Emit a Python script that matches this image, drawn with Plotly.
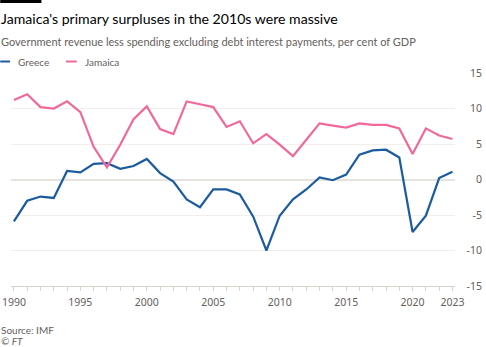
import plotly.graph_objects as go

# Primary balance, per cent of GDP
years = list(range(1990, 2024))
greece = [-5.9, -3.0, -2.4, -2.6, 1.2, 1.0, 2.2, 2.3, 1.5, 1.9,
          2.9, 0.9, -0.3, -2.8, -3.9, -1.4, -1.4, -2.1, -5.2, -10.0,
          -5.1, -2.8, -1.4, 0.3, -0.1, 0.7, 3.5, 4.1, 4.2, 3.1,
          -7.4, -5.1, 0.2, 1.1]
jamaica = [11.2, 12.0, 10.2, 10.0, 11.0, 9.5, 4.6, 1.7, 4.9, 8.5,
           10.3, 7.1, 6.4, 11.0, 10.6, 10.2, 7.4, 8.2, 5.1, 6.4,
           4.9, 3.3, 5.6, 7.9, 7.6, 7.3, 7.9, 7.7, 7.7, 7.2,
           3.6, 7.2, 6.2, 5.7]

x_labels = {1990: "1990", 1995: "1995", 2000: "2000", 2005: "2005",
            2010: "2010", 2015: "2015", 2020: "2020", 2023: "2023"}
y_ticks = [-15, -10, -5, 0, 5, 10, 15]

BLUE = "#1b5c9e"
PINK = "#f0699a"
GREY_TEXT = "#66605c"
FONT = "Noto Sans"
TEXT_FONT = "Lato"

W, H = 486, 347
L, R, T, B = 11, 2, 73, 61
PW, PH = W - L - R, H - T - B


def px(x):
    return (x - L) / PW


def py(y):
    return (H - B - y) / PH


fig = go.Figure()
fig.add_trace(go.Scatter(x=years, y=greece, mode="lines", name="Greece",
                         line=dict(color=BLUE, width=2.2), showlegend=False))
fig.add_trace(go.Scatter(x=years, y=jamaica, mode="lines", name="Jamaica",
                         line=dict(color=PINK, width=2.2), showlegend=False))
# carrier for the right-hand value labels
fig.add_trace(go.Scatter(x=years, y=jamaica, yaxis="y2", mode="lines",
                         line=dict(color="rgba(0,0,0,0)"), showlegend=False,
                         hoverinfo="skip"))

fig.update_layout(
    width=W, height=H,
    margin=dict(l=L, r=R, t=T, b=B),
    paper_bgcolor="white", plot_bgcolor="white",
    font=dict(family=FONT, color=GREY_TEXT, size=10.5),
    xaxis=dict(
        domain=[0, px(464)],
        range=[1989.78, 2023.22],
        tickvals=years,
        ticktext=[x_labels.get(y, "") for y in years],
        ticks="outside", ticklen=4, tickcolor="#d8d2cc", tickwidth=1,
        showline=True, linecolor="#d8d2cc", linewidth=1,
        showgrid=False, zeroline=False,
        ticklabelstandoff=2,
        tickfont=dict(size=10.5, color=GREY_TEXT),
    ),
    yaxis=dict(
        range=[-15, 15],
        tickvals=y_ticks,
        showticklabels=False,
        showgrid=True, gridcolor="#f3eeea", gridwidth=1,
        zeroline=True, zerolinecolor="#e6e2de", zerolinewidth=2,
    ),
    yaxis2=dict(
        range=[-15, 15],
        overlaying="y", side="left", anchor="free", position=1,
        tickvals=y_ticks,
        ticktext=[str(v) for v in y_ticks],
        showgrid=False, zeroline=False, ticks="",
        ticklabelstandoff=-7,
        tickfont=dict(size=10.5, color=GREY_TEXT),
    ),
)

shapes = [
    dict(type="rect", xref="paper", yref="paper",
         x0=px(0), x1=px(42), y0=py(0), y1=py(3),
         fillcolor="black", line=dict(width=0)),
    dict(type="line", xref="paper", yref="paper",
         x0=px(0), x1=px(10), y0=py(61.5), y1=py(61.5),
         line=dict(color=BLUE, width=2)),
    dict(type="line", xref="paper", yref="paper",
         x0=px(67), x1=px(78), y0=py(61.5), y1=py(61.5),
         line=dict(color=PINK, width=2)),
]

annotations = [
    dict(text="Jamaica's primary surpluses in the 2010s were massive",
         x=px(-1), y=py(18.5), font=dict(size=14.1, color="#000000", family=TEXT_FONT)),
    dict(text="Government revenue less spending excluding debt interest payments, per cent of GDP",
         x=px(-1), y=py(41.5), font=dict(size=11, color=GREY_TEXT, family=TEXT_FONT)),
    dict(text="Greece", x=px(16), y=py(61.5),
         font=dict(size=10, color=GREY_TEXT, family=TEXT_FONT)),
    dict(text="Jamaica", x=px(84), y=py(61.5),
         font=dict(size=10, color=GREY_TEXT, family=TEXT_FONT)),
    dict(text="Source: IMF", x=px(-1), y=py(329.5),
         font=dict(size=10, color=GREY_TEXT, family=TEXT_FONT)),
    dict(text="<i>© FT</i>", x=px(-1), y=py(341),
         font=dict(size=10, color=GREY_TEXT, family=TEXT_FONT)),
]
for a in annotations:
    a.update(xref="paper", yref="paper", showarrow=False, align="left",
             xanchor="left", yanchor="middle")

fig.update_layout(shapes=shapes, annotations=annotations)

fig.write_html("out.html")
